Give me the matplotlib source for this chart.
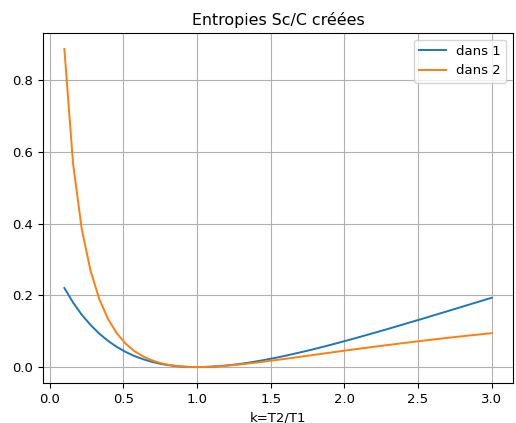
import matplotlib
matplotlib.use('Agg')
import matplotlib.pyplot as plt

# k = T2/T1 sample points (50 points from 0.1 to 3.0)
k = [0.100, 0.159, 0.218, 0.278, 0.337, 0.396, 0.455, 0.514, 0.573, 0.633,
     0.692, 0.751, 0.810, 0.869, 0.929, 0.988, 1.047, 1.106, 1.165, 1.224,
     1.284, 1.343, 1.402, 1.461, 1.520, 1.580, 1.639, 1.698, 1.757, 1.816,
     1.876, 1.935, 1.994, 2.053, 2.112, 2.171, 2.231, 2.290, 2.349, 2.408,
     2.467, 2.527, 2.586, 2.645, 2.704, 2.763, 2.822, 2.882, 2.941, 3.000]

# created entropy Sc/C, body 1
dans1 = [0.2203, 0.1799, 0.1459, 0.1173, 0.0933, 0.0732, 0.0564, 0.0426, 0.0312, 0.0221,
         0.0148, 0.0092, 0.0051, 0.0023, 0.0007, 0.0000, 0.0003, 0.0013, 0.0031, 0.0055,
         0.0084, 0.0119, 0.0158, 0.0201, 0.0248, 0.0298, 0.0351, 0.0407, 0.0464, 0.0524,
         0.0586, 0.0650, 0.0715, 0.0781, 0.0848, 0.0917, 0.0986, 0.1056, 0.1127, 0.1199,
         0.1271, 0.1343, 0.1416, 0.1489, 0.1562, 0.1636, 0.1710, 0.1784, 0.1858, 0.1931]

# created entropy Sc/C, body 2
dans2 = [0.8866, 0.5669, 0.3844, 0.2681, 0.1894, 0.1342, 0.0947, 0.0660, 0.0451, 0.0299,
         0.0189, 0.0112, 0.0059, 0.0026, 0.0007, 0.0000, 0.0003, 0.0012, 0.0028, 0.0048,
         0.0071, 0.0098, 0.0126, 0.0156, 0.0188, 0.0220, 0.0253, 0.0286, 0.0320, 0.0353,
         0.0387, 0.0420, 0.0453, 0.0486, 0.0518, 0.0550, 0.0582, 0.0613, 0.0643, 0.0673,
         0.0703, 0.0732, 0.0760, 0.0788, 0.0816, 0.0843, 0.0869, 0.0895, 0.0920, 0.0945]

plt.rcParams.update({
    'font.size': 9.5,
    'axes.titlesize': 11.4,
    'axes.labelsize': 9.5,
    'xtick.labelsize': 9.5,
    'ytick.labelsize': 9.5,
    'legend.fontsize': 9.5,
})

fig = plt.figure(figsize=(5.16, 4.23), dpi=100)
ax = fig.add_axes([43 / 516, 40 / 423, 470 / 516, 350 / 423])

ax.plot(k, dans1, color='#1f77b4', linewidth=1.4, label='dans 1')
ax.plot(k, dans2, color='#ff7f0e', linewidth=1.4, label='dans 2')

ax.set_title('Entropies Sc/C créées')
ax.set_xlabel('k=T2/T1')
ax.grid(True)
ax.legend(loc='upper right')

fig.savefig('out.png', dpi=100)
